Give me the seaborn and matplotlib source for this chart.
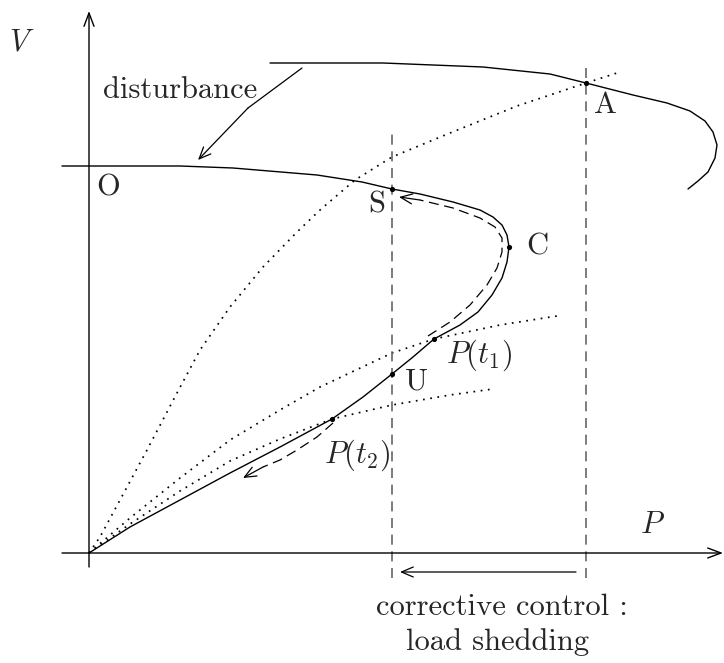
import matplotlib
matplotlib.use("Agg")
import matplotlib.pyplot as plt
import seaborn as sns
import pandas as pd

sns.set_theme(style="white")
plt.rcParams["mathtext.fontset"] = "cm"
plt.rcParams["font.family"] = ["cmr10", "DejaVu Serif"]
plt.rcParams["axes.unicode_minus"] = False

# Post-disturbance PV curve (upper branch, nose C, lower branch back to origin)
p_post = [-0.27, 0.91, 1.44, 2.28, 2.73, 3.03, 3.31, 3.64, 3.91, 4.04, 4.13, 4.18, 4.20,
          4.18, 4.13, 4.03, 3.89, 3.71, 3.45, 3.24, 3.03, 2.74, 2.43, 1.91, 1.41, 0.91, 0.41, 0.0]
v_post = [3.87, 3.87, 3.85, 3.78, 3.71, 3.64, 3.59, 3.51, 3.43, 3.36, 3.28, 3.18, 3.06,
          2.91, 2.75, 2.58, 2.41, 2.28, 2.14, 1.96, 1.79, 1.56, 1.34, 1.06, 0.80, 0.53, 0.26, 0.0]

# Pre-disturbance PV curve
p_pre = [1.81, 2.94, 3.94, 4.61, 4.97, 5.44, 5.78, 6.01, 6.16, 6.24, 6.28, 6.26, 6.19, 6.09, 5.99]
v_pre = [4.90, 4.90, 4.86, 4.79, 4.70, 4.58, 4.50, 4.42, 4.32, 4.21, 4.08, 3.95, 3.81, 3.72, 3.64]

# Load characteristics
p_load_a = [0, 0.11, 0.31, 0.58, 0.88, 1.11, 1.41, 1.74, 2.08, 2.31, 2.66, 3.03, 3.61, 4.28, 4.97, 5.28]
v_load_a = [0, 0.16, 0.53, 1.03, 1.60, 2.03, 2.46, 2.86, 3.21, 3.43, 3.73, 3.96, 4.20, 4.47, 4.70, 4.80]
p_load_t1 = [0, 0.41, 0.91, 1.41, 1.91, 2.31, 3.03, 3.45, 4.11, 4.68]
v_load_t1 = [0, 0.35, 0.75, 1.13, 1.43, 1.66, 2.00, 2.14, 2.28, 2.37]
p_load_t2 = [0, 0.41, 0.91, 1.41, 1.91, 2.43, 3.03, 3.61, 4.04]
v_load_t2 = [0, 0.29, 0.62, 0.92, 1.14, 1.34, 1.48, 1.58, 1.64]

# Trajectories
p_traj_up = [3.39, 3.61, 3.81, 3.98, 4.08, 4.13, 4.13, 4.06, 3.91, 3.64, 3.31, 3.10]
v_traj_up = [2.17, 2.31, 2.48, 2.68, 2.85, 3.01, 3.15, 3.26, 3.35, 3.45, 3.53, 3.56]
p_traj_down = [2.44, 2.28, 2.08, 1.91, 1.74, 1.54]
v_traj_down = [1.30, 1.16, 1.03, 0.93, 0.86, 0.75]

# Operating points
point_names = ["A", "S", "C", "P(t1)", "U", "P(t2)"]
point_p = [4.97, 3.03, 4.20, 3.45, 3.03, 2.43]
point_v = [4.70, 3.64, 3.06, 2.14, 1.79, 1.34]

# Load levels before / after shedding
p_initial = 4.97
p_shed = 3.03

fig = plt.figure(figsize=(7.24, 6.63), dpi=100)
ax = fig.add_axes([0, 0, 1, 1])
ax.set_xlim(-0.89, 6.35)
ax.set_ylim(-1.10, 5.53)
ax.axis("off")

def curve(p, v, **kw):
    df = pd.DataFrame({"P": p, "V": v})
    sns.lineplot(data=df, x="P", y="V", sort=False, estimator=None, ax=ax, legend=False, **kw)

curve(p_post, v_post, color="black", lw=1.0)
curve(p_pre, v_pre, color="black", lw=1.0)
dot = (0, (1, 3.2))
for p, v in [(p_load_a, v_load_a), (p_load_t1, v_load_t1), (p_load_t2, v_load_t2)]:
    curve(p, v, color="black", lw=1.25, linestyle=dot)

dash = (0, (8, 4.5))
curve(p_traj_up[:-1], v_traj_up[:-1], color="black", lw=0.9, linestyle=dash)
curve(p_traj_down[:-1], v_traj_down[:-1], color="black", lw=0.9, linestyle=dash)
head = dict(arrowstyle="->,head_length=0.7,head_width=0.3", color="black", lw=0.9,
            shrinkA=0, shrinkB=0)
ax.annotate("", xy=(p_traj_up[-1], v_traj_up[-1]), xytext=(p_traj_up[-2], v_traj_up[-2]),
            arrowprops=head)
ax.annotate("", xy=(p_traj_down[-1], v_traj_down[-1]), xytext=(p_traj_down[-2], v_traj_down[-2]),
            arrowprops=head)

# Load levels
for p0, top in [(p_shed, 4.23), (p_initial, 4.88)]:
    ax.plot([p0, p0], [-0.25, top], color="#666666", lw=1.2, linestyle=(0, (6, 4)))

sns.scatterplot(x=point_p, y=point_v, color="black", s=14, ax=ax, zorder=5, linewidth=0)

# Axes
axis_head = dict(arrowstyle="->,head_length=0.8,head_width=0.3", color="black", lw=1.0,
                 shrinkA=0, shrinkB=0)
ax.annotate("", xy=(0, 5.42), xytext=(0, -0.14), arrowprops=axis_head)
ax.annotate("", xy=(6.34, 0), xytext=(-0.27, 0), arrowprops=axis_head)

# Disturbance arrow
ax.plot([2.13, 1.59], [4.85, 4.45], color="black", lw=0.9)
ax.annotate("", xy=(1.09, 3.93), xytext=(1.59, 4.45), arrowprops=head)

# Corrective control arrow
ax.annotate("", xy=(p_shed + 0.08, -0.19), xytext=(p_initial - 0.10, -0.19), arrowprops=head)

fs = 22
ax.text(-0.67, 5.10, r"$V$", fontsize=fs, ha="center", va="center")
ax.text(5.63, 0.28, r"$P$", fontsize=fs, ha="center", va="center")
ax.text(0.91, 4.63, "disturbance", fontsize=fs, ha="center", va="center")
ax.text(0.19, 3.65, "O", fontsize=fs, ha="center", va="center")
ax.text(5.16, 4.48, "A", fontsize=fs, ha="center", va="center")
ax.text(2.88, 3.48, "S", fontsize=fs, ha="center", va="center")
ax.text(4.48, 3.06, "C", fontsize=fs, ha="center", va="center")
ax.text(3.28, 1.71, "U", fontsize=fs, ha="center", va="center")
ax.text(3.90, 1.98, r"$P(t_1)$", fontsize=fs, ha="center", va="center")
ax.text(2.68, 0.98, r"$P(t_2)$", fontsize=fs, ha="center", va="center")
ax.text(4.13, -0.54, "corrective control :", fontsize=fs, ha="center", va="center")
ax.text(4.09, -0.89, "load shedding", fontsize=fs, ha="center", va="center")

fig.savefig("out.png", dpi=100, facecolor="white")
